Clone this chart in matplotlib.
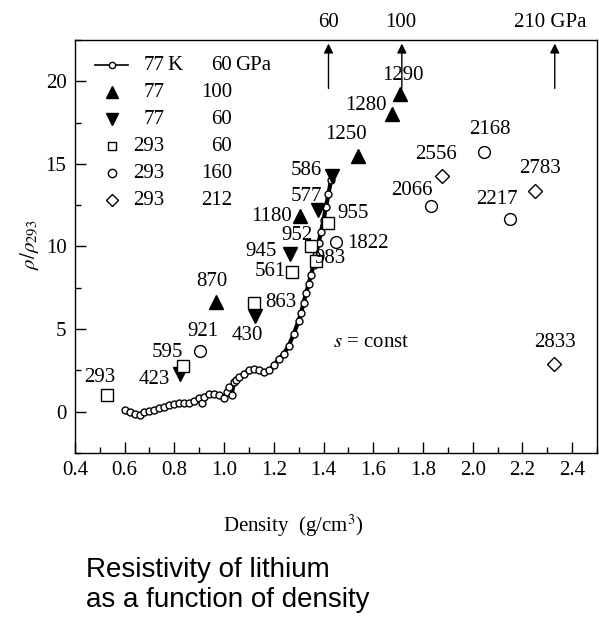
import numpy as np
import matplotlib
matplotlib.use("Agg")
import matplotlib.pyplot as plt
from matplotlib.ticker import MultipleLocator

plt.rcParams['font.family'] = ['Liberation Serif', 'DejaVu Serif']
plt.rcParams['mathtext.fontset'] = 'stix'

# 77 K, 60 GPa continuous run (density, rho/rho293)
curve_x = [0.60, 0.62, 0.64, 0.66, 0.68, 0.70, 0.72, 0.74, 0.76, 0.78, 0.80, 0.82,
           0.84, 0.86, 0.88, 0.90, 0.91, 0.92, 0.94, 0.96, 0.98, 1.00, 1.01, 1.02,
           1.03, 1.04, 1.05, 1.06, 1.08, 1.10, 1.12, 1.14, 1.16, 1.18, 1.20, 1.22,
           1.24, 1.26, 1.28, 1.30, 1.31, 1.32, 1.33, 1.34, 1.35, 1.36, 1.37, 1.38,
           1.39, 1.40, 1.41, 1.42, 1.43]
curve_y = [0.10, 0.00, -0.15, -0.20, -0.05, 0.05, 0.10, 0.20, 0.30, 0.40, 0.45, 0.50,
           0.55, 0.55, 0.65, 0.80, 0.50, 0.90, 1.05, 1.10, 1.00, 0.80, 1.20, 1.50,
           1.00, 1.80, 1.90, 2.10, 2.30, 2.50, 2.60, 2.55, 2.40, 2.50, 2.80, 3.20,
           3.50, 4.00, 4.70, 5.50, 6.00, 6.60, 7.20, 7.70, 8.30, 8.90, 9.50, 10.20,
           10.90, 11.60, 12.40, 13.20, 14.00]

# 77 K, 100 GPa
up_x = [0.969, 1.306, 1.539, 1.675, 1.707]
up_y = [6.65, 11.83, 15.49, 17.99, 19.21]
up_lab = ["870", "1180", "1250", "1280", "1290"]
up_off = [(-4, 20), (-29, 0), (-12, 21), (-26, 9), (3, 19)]

# 77 K, 60 GPa
dn_x = [0.821, 1.126, 1.266, 1.378, 1.435]
dn_y = [2.26, 5.79, 9.57, 12.20, 14.27]
dn_lab = ["423", "430", "945", "577", "586"]
dn_off = [(-25, -5), (-8, -19), (-29, 2), (-12, 14), (-26, 5)]

# 293 K, 60 GPa
sq_x = [0.528, 0.833, 1.122, 1.274, 1.370, 1.350, 1.420]
sq_y = [0.98, 2.74, 6.59, 8.48, 9.10, 10.00, 11.40]
sq_lab = ["293", "595", "863", "561", "983", "952", "955"]
sq_off = [(-7, 18), (-15, 14), (26, 0), (-22, 0), (14, 3), (-14, 11), (25, 10)]

# 293 K, 160 GPa
ci_x = [0.902, 1.452, 1.831, 2.047, 2.152]
ci_y = [3.66, 10.30, 12.44, 15.73, 11.65]
ci_lab = ["921", "1822", "2066", "2168", "2217"]
ci_off = [(3, 20), (31, -2), (-19, 16), (5, 22), (-14, 20)]

# 293 K, 212 GPa
di_x = [1.875, 2.252, 2.328]
di_y = [14.27, 13.35, 2.87]
di_lab = ["2556", "2783", "2833"]
di_off = [(-6, 21), (5, 23), (1, 22)]

# pressure arrows on top
arr_x = [1.42, 1.715, 2.33]
arr_lab = ["60", "100", "210 GPa"]
arr_lab_x = [1.42, 1.71, 2.31]

leg_T = ["77", "77", "77", "293", "293", "293"]
leg_P = ["60", "100", "60", "60", "160", "212"]

fig = plt.figure(figsize=(5.99, 6.20), dpi=100)
ax = fig.add_axes([0.125, 0.2694, 0.8717, 0.6661])

fs = 15
ax.plot(curve_x, curve_y, '-', color='black', lw=3.0)
ax.plot(curve_x, curve_y, 'o', color='black', ms=5, mfc='white', mew=1.0)

groups = [
    (up_x, up_y, up_lab, up_off, '^', 10, 'black'),
    (dn_x, dn_y, dn_lab, dn_off, 'v', 10, 'black'),
    (sq_x, sq_y, sq_lab, sq_off, 's', 8, 'white'),
    (ci_x, ci_y, ci_lab, ci_off, 'o', 8.5, 'white'),
    (di_x, di_y, di_lab, di_off, 'D', 7.5, 'white'),
]
for gx, gy, glab, goff, mk, ms, fc in groups:
    ax.plot(gx, gy, mk, ls='none', ms=ms, mfc=fc, mec='black', mew=1.0)
    for x, y, t, o in zip(gx, gy, glab, goff):
        ax.annotate(t, (x, y), xytext=o, textcoords='offset pixels',
                    ha='center', va='center', fontsize=fs)

# arrows above the frame
for x, t, tx in zip(arr_x, arr_lab, arr_lab_x):
    ax.annotate('', xy=(x, 22.45), xytext=(x, 19.4),
                arrowprops=dict(arrowstyle='-|>', color='black', lw=1.0,
                                mutation_scale=14), annotation_clip=False)
    ax.text(tx, 23.55, t, ha='center', va='center', fontsize=fs, clip_on=False)

ax.text(1.44, 4.2, r'$s$ = const', ha='left', va='center', fontsize=fs)

# legend drawn by hand
mk_list = ['o', '^', 'v', 's', 'o', 'D']
ms_list = [4.5, 9, 9, 6, 6, 6]
fc_list = ['white', 'black', 'black', 'white', 'white', 'white']
for i in range(6):
    yy = 0.9384 - i * 0.0654
    if i == 0:
        ax.plot([0.038, 0.102], [yy, yy], '-', color='black', lw=1.2, transform=ax.transAxes)
    ax.plot([0.071], [yy], mk_list[i], ms=ms_list[i], mfc=fc_list[i], mec='black',
            mew=1.0, transform=ax.transAxes)
    ax.text(0.172, yy, leg_T[i], ha='right', va='center', fontsize=fs, transform=ax.transAxes)
    ax.text(0.301, yy, leg_P[i], ha='right', va='center', fontsize=fs, transform=ax.transAxes)
    if i == 0:
        ax.text(0.178, yy, 'K', ha='left', va='center', fontsize=fs, transform=ax.transAxes)
        ax.text(0.307, yy, 'GPa', ha='left', va='center', fontsize=fs, transform=ax.transAxes)

ax.set_xlim(0.4, 2.5)
ax.set_ylim(-2.5, 22.5)
ax.xaxis.set_minor_locator(MultipleLocator(0.1))
ax.yaxis.set_minor_locator(MultipleLocator(2.5))
ax.set_yticks([0, 5, 10, 15, 20])
ax.set_xticks(np.arange(0.4, 2.41, 0.2))
ax.set_xticklabels(["%.1f" % v for v in np.arange(0.4, 2.41, 0.2)])
ax.tick_params(which='both', direction='in', top=False, right=False, labelsize=fs,
               width=1.0)
ax.tick_params(which='major', length=8, pad=6)
ax.tick_params(which='minor', length=4)
for s in ax.spines.values():
    s.set_linewidth(1.0)

fig.text(0.05, 0.605, r'$\rho/\rho_{293}$', rotation=90, ha='center', va='center', fontsize=fs)
fig.text(0.49, 0.152, r'Density  (g/cm$^3$)', ha='center', va='center', fontsize=fs)

fig.text(0.1436, 0.0694, 'Resistivity of lithium', ha='left', va='baseline',
         fontsize=20, family=['Liberation Sans', 'DejaVu Sans'])
fig.text(0.1436, 0.0210, 'as a function of density', ha='left', va='baseline',
         fontsize=20, family=['Liberation Sans', 'DejaVu Sans'])

fig.savefig('out.png', dpi=100)
